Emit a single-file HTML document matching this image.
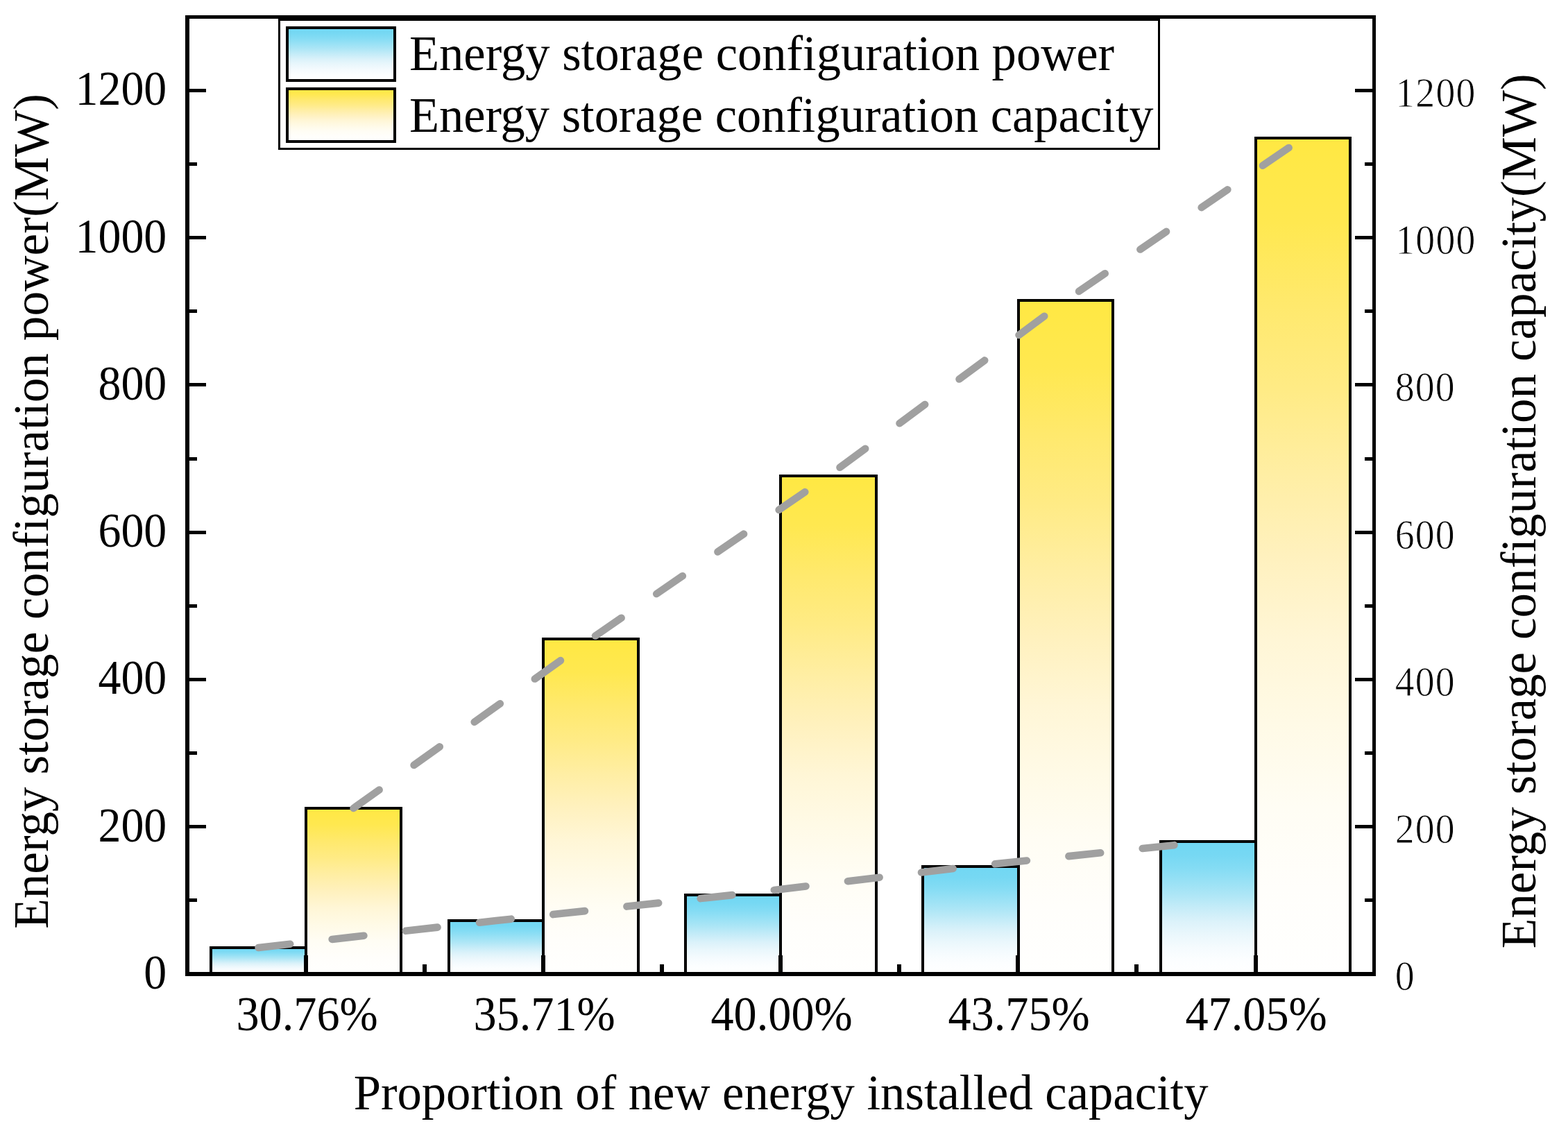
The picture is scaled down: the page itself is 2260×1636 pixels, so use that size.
<!DOCTYPE html>
<html lang="en"><head><meta charset="utf-8">
<title>Energy storage configuration vs. proportion of new energy installed capacity</title>
<style>
html,body{margin:0;padding:0;background:#ffffff;}
body{width:2260px;height:1636px;overflow:hidden;}
svg{display:block;}
text{font-family:'Liberation Serif',serif;fill:#000;}
.ax{fill:#000;shape-rendering:crispEdges;}
.bar{stroke:#000;stroke-width:4;shape-rendering:crispEdges;}
.dash{fill:none;stroke:#a0a0a0;stroke-width:10.6;stroke-linecap:round;stroke-linejoin:round;}
</style></head><body>
<svg width="2260" height="1636" viewBox="0 0 2260 1636" role="img" aria-label="Bar chart of energy storage configuration power and capacity versus proportion of new energy installed capacity">
<defs>
<linearGradient id="gb" x1="0" y1="0" x2="0" y2="1">
<stop offset="0" stop-color="#71d7f3"/>
<stop offset="0.1" stop-color="#76d8f3"/>
<stop offset="0.2" stop-color="#84dcf4"/>
<stop offset="0.3" stop-color="#98e1f5"/>
<stop offset="0.4" stop-color="#ade6f6"/>
<stop offset="0.5" stop-color="#c5ecf8"/>
<stop offset="0.6" stop-color="#dbf2fa"/>
<stop offset="0.7" stop-color="#eaf7fc"/>
<stop offset="0.8" stop-color="#f5fbfe"/>
<stop offset="0.9" stop-color="#fcfeff"/>
<stop offset="1" stop-color="#ffffff"/>
</linearGradient>
<linearGradient id="gy" x1="0" y1="0" x2="0" y2="1">
<stop offset="0" stop-color="#ffe843"/>
<stop offset="0.1" stop-color="#ffe850"/>
<stop offset="0.2" stop-color="#ffe96d"/>
<stop offset="0.3" stop-color="#ffeb85"/>
<stop offset="0.4" stop-color="#ffeea3"/>
<stop offset="0.5" stop-color="#fff1be"/>
<stop offset="0.6" stop-color="#fff6d6"/>
<stop offset="0.7" stop-color="#fffae6"/>
<stop offset="0.8" stop-color="#fffdf4"/>
<stop offset="0.9" stop-color="#fffefb"/>
<stop offset="1" stop-color="#fffffe"/>
</linearGradient>
</defs>
<rect x="0" y="0" width="2260" height="1636" fill="#ffffff"/>
<g id="bars">
<rect class="bar" x="304" y="1366" width="137" height="38" fill="url(#gb)"/>
<rect class="bar" x="441" y="1165" width="137" height="239" fill="url(#gy)"/>
<rect class="bar" x="647" y="1327" width="136" height="77" fill="url(#gb)"/>
<rect class="bar" x="783" y="921" width="137" height="483" fill="url(#gy)"/>
<rect class="bar" x="988" y="1290" width="137" height="114" fill="url(#gb)"/>
<rect class="bar" x="1125" y="686" width="138" height="718" fill="url(#gy)"/>
<rect class="bar" x="1330" y="1249" width="138" height="155" fill="url(#gb)"/>
<rect class="bar" x="1468" y="433" width="136" height="971" fill="url(#gy)"/>
<rect class="bar" x="1673" y="1213" width="137" height="191" fill="url(#gb)"/>
<rect class="bar" x="1810" y="199" width="136" height="1205" fill="url(#gy)"/>
</g>
<g id="trend">
<polyline class="dash" stroke-dasharray="46 60.85" points="372.5,1366 715,1327 1056.5,1290 1399,1249 1741.5,1213"/>
<polyline class="dash" stroke-dasharray="45.6 61.4" points="509.5,1165 851.5,921 1194,686 1536,433 1878,199"/>
</g>
<g id="axes" class="ax">
<rect x="267" y="22" width="6" height="1385"/>
<rect x="267" y="1401" width="1716" height="6"/>
<rect x="267" y="22" width="1716" height="5"/>
<rect x="1978" y="22" width="5" height="1385"/>
<rect x="273" y="1295" width="11" height="5"/>
<rect x="1967" y="1295" width="11" height="5"/>
<rect x="273" y="1189" width="24" height="5"/>
<rect x="1953" y="1189" width="25" height="5"/>
<rect x="273" y="1083" width="11" height="5"/>
<rect x="1967" y="1083" width="11" height="5"/>
<rect x="273" y="977" width="24" height="5"/>
<rect x="1953" y="977" width="25" height="5"/>
<rect x="273" y="871" width="11" height="5"/>
<rect x="1967" y="871" width="11" height="5"/>
<rect x="273" y="765" width="24" height="5"/>
<rect x="1953" y="765" width="25" height="5"/>
<rect x="273" y="659" width="11" height="5"/>
<rect x="1967" y="659" width="11" height="5"/>
<rect x="273" y="552" width="24" height="5"/>
<rect x="1953" y="552" width="25" height="5"/>
<rect x="273" y="446" width="11" height="5"/>
<rect x="1967" y="446" width="11" height="5"/>
<rect x="273" y="340" width="24" height="5"/>
<rect x="1953" y="340" width="25" height="5"/>
<rect x="273" y="234" width="11" height="5"/>
<rect x="1967" y="234" width="11" height="5"/>
<rect x="273" y="128" width="24" height="5"/>
<rect x="1953" y="128" width="25" height="5"/>
<rect x="438" y="1377" width="6" height="24"/>
<rect x="780" y="1377" width="6" height="24"/>
<rect x="1122" y="1377" width="6" height="24"/>
<rect x="1464" y="1377" width="6" height="24"/>
<rect x="1807" y="1377" width="6" height="24"/>
<rect x="609" y="1390" width="6" height="11"/>
<rect x="951" y="1390" width="6" height="11"/>
<rect x="1293" y="1390" width="6" height="11"/>
<rect x="1635" y="1390" width="6" height="11"/>
</g>
<g id="legend">
<rect x="402.5" y="28.5" width="1268" height="186" fill="#ffffff" stroke="#000" stroke-width="3" shape-rendering="crispEdges"/>
<rect class="bar" x="414" y="40" width="155" height="76" fill="url(#gb)"/>
<rect class="bar" x="414" y="128" width="155" height="76" fill="url(#gy)"/>
<text transform="translate(589.9 101.4) scale(0.9806 1)" font-size="72" text-anchor="start">Energy storage configuration power</text>
<text transform="translate(589.9 189.7) scale(0.9786 1)" font-size="72" text-anchor="start">Energy storage configuration capacity</text>
</g>
<g id="yticks-left">
<text transform="translate(240.3 1424.8) scale(0.955 1)" font-size="69" text-anchor="end">0</text>
<text transform="translate(240.3 1212.55) scale(0.955 1)" font-size="69" text-anchor="end">200</text>
<text transform="translate(240.3 1000.3) scale(0.955 1)" font-size="69" text-anchor="end">400</text>
<text transform="translate(240.3 788.05) scale(0.955 1)" font-size="69" text-anchor="end">600</text>
<text transform="translate(240.3 575.8) scale(0.955 1)" font-size="69" text-anchor="end">800</text>
<text transform="translate(240.3 363.55) scale(0.955 1)" font-size="69" text-anchor="end">1000</text>
<text transform="translate(240.3 151.3) scale(0.955 1)" font-size="69" text-anchor="end">1200</text>
</g>
<g id="yticks-right">
<text transform="translate(2010.7 1427.3) scale(0.9 1)" font-size="62" text-anchor="start" letter-spacing="1.3" stroke="#ffffff" stroke-width="0.9">0</text>
<text transform="translate(2010.7 1215.05) scale(0.9 1)" font-size="62" text-anchor="start" letter-spacing="1.3" stroke="#ffffff" stroke-width="0.9">200</text>
<text transform="translate(2010.7 1002.8) scale(0.9 1)" font-size="62" text-anchor="start" letter-spacing="1.3" stroke="#ffffff" stroke-width="0.9">400</text>
<text transform="translate(2010.7 790.55) scale(0.9 1)" font-size="62" text-anchor="start" letter-spacing="1.3" stroke="#ffffff" stroke-width="0.9">600</text>
<text transform="translate(2010.7 578.3) scale(0.9 1)" font-size="62" text-anchor="start" letter-spacing="1.3" stroke="#ffffff" stroke-width="0.9">800</text>
<text transform="translate(2011.3 366.05) scale(0.9 1)" font-size="62" text-anchor="start" letter-spacing="1.3" stroke="#ffffff" stroke-width="0.9">1000</text>
<text transform="translate(2011.3 153.8) scale(0.9 1)" font-size="62" text-anchor="start" letter-spacing="1.3" stroke="#ffffff" stroke-width="0.9">1200</text>
</g>
<g id="xticks">
<text transform="translate(442.6 1484.9) scale(0.96 1)" font-size="69" text-anchor="middle">30.76%</text>
<text transform="translate(784.6 1484.9) scale(0.96 1)" font-size="69" text-anchor="middle">35.71%</text>
<text transform="translate(1126.6 1484.9) scale(0.96 1)" font-size="69" text-anchor="middle">40.00%</text>
<text transform="translate(1468.6 1484.9) scale(0.96 1)" font-size="69" text-anchor="middle">43.75%</text>
<text transform="translate(1810.6 1484.9) scale(0.96 1)" font-size="69" text-anchor="middle">47.05%</text>
</g>
<g id="titles">
<text transform="translate(509.7 1598.6) scale(0.9806 1)" font-size="72" text-anchor="start">Proportion of new energy installed capacity</text>
<text transform="translate(68.5 1338.8) rotate(-90) scale(0.9899 1)" font-size="72" text-anchor="start">Energy storage configuration power(MW)</text>
<text transform="translate(2213 1367.2) rotate(-90) scale(0.9882 1)" font-size="72" text-anchor="start">Energy storage configuration capacity(MW)</text>
</g>
</svg>
</body></html>
